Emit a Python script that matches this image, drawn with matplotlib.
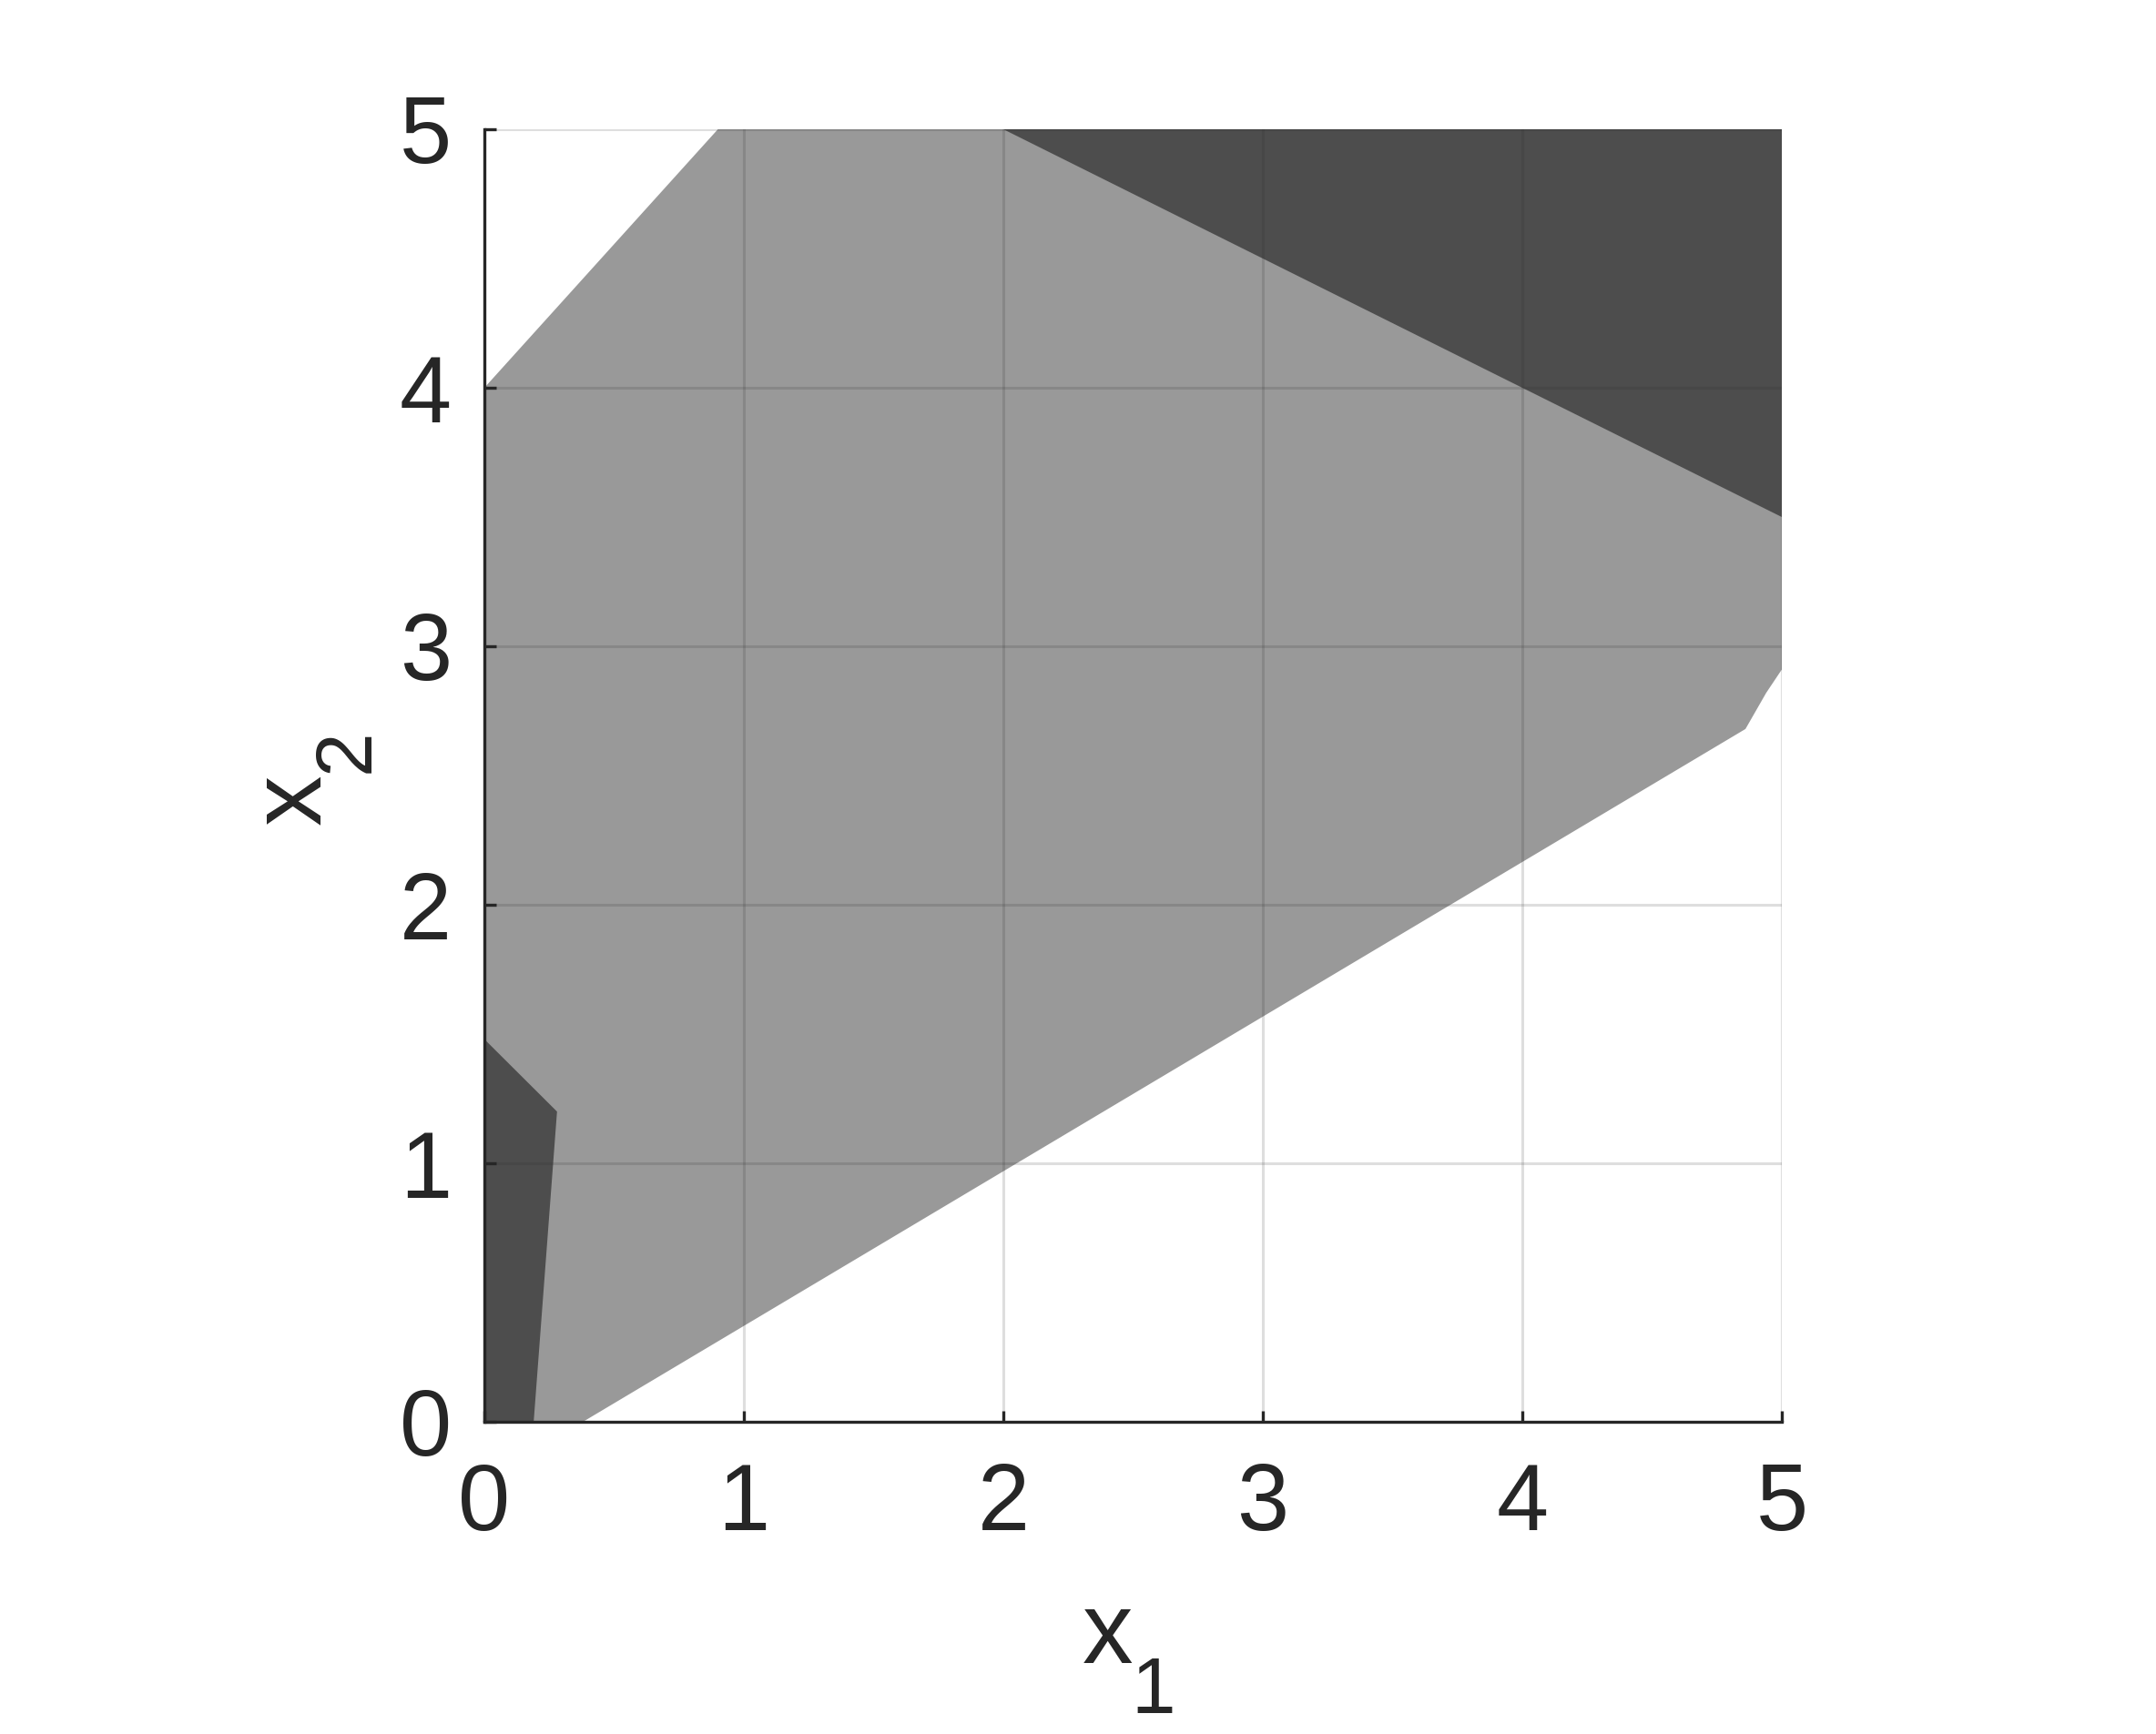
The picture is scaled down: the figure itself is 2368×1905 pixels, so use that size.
"""Feasible-region style shaded polygons on a 0..5 grid (MATLAB look)."""
import matplotlib
matplotlib.use("Agg")
import matplotlib.pyplot as plt

plt.rcParams["font.family"] = ["Liberation Sans", "DejaVu Sans"]

# polygon vertices (data units)
light_x = [0, 0.38, 4.86, 4.94, 5, 5, 0.9, 0]
light_y = [0, 0, 2.68, 2.82, 2.91, 5, 5, 4]
dark_low_x = [0, 0.19, 0.28, 0]
dark_low_y = [0, 0, 1.20, 1.48]
dark_top_x = [2, 5, 5]
dark_top_y = [5, 5, 3.5]
ticks = [0, 1, 2, 3, 4, 5]

LIGHT = "#999999"
DARK = "#4d4d4d"
INK = "#262626"
W, H = 2368, 1905

fig = plt.figure(figsize=(W / 100, H / 100), dpi=100)
ax = fig.add_axes([532 / W, 343 / H, 1425 / W, 1420 / H])

ax.fill(light_x, light_y, color=LIGHT, lw=0, zorder=1)
ax.fill(dark_low_x, dark_low_y, color=DARK, lw=0, zorder=2)
ax.fill(dark_top_x, dark_top_y, color=DARK, lw=0, zorder=2)

ax.set_xlim(0, 5); ax.set_ylim(0, 5)
ax.set_xticks(ticks); ax.set_yticks(ticks)
ax.grid(True, color=(0.15, 0.15, 0.15), alpha=0.15, lw=2.2, zorder=3)
ax.set_axisbelow(False)
for s in ("top", "right"):
    ax.spines[s].set_visible(False)
for s in ("left", "bottom"):
    ax.spines[s].set_linewidth(2.4)
    ax.spines[s].set_color(INK)
    ax.spines[s].set_zorder(4)
ax.tick_params(direction="in", length=9, width=2.4, color=INK,
               labelsize=74, labelcolor=INK, pad=32)
ax.tick_params(axis="y", pad=26)

# axis labels with MATLAB-style dropped subscripts (positions in pixels)
def ptext(px, py, s, size, **kw):
    fig.text(px / W, 1 - py / H, s, fontsize=size, color=INK,
             rotation_mode="anchor", **kw)

ptext(1217, 1827, "x", 80, ha="center", va="baseline")
ptext(1267, 1882, "1", 63, ha="center", va="baseline")
ptext(352, 878, "x", 80, ha="center", va="baseline", rotation=90)
ptext(405, 825, "2", 63, ha="center", va="baseline", rotation=90)

fig.savefig("out.png", dpi=100)
